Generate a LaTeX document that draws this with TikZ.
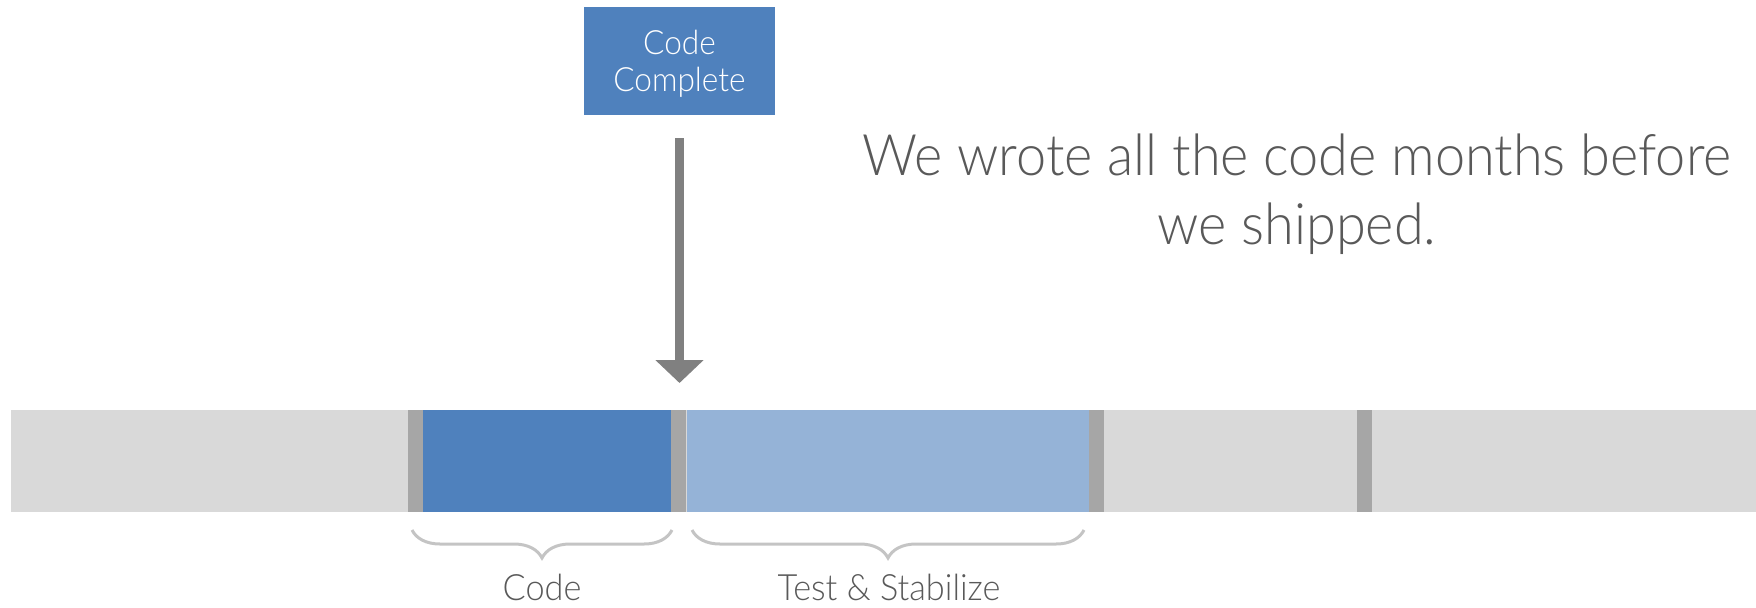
\documentclass[tikz,border=0pt]{standalone}
\usepackage{fontspec}
\setmainfont{Lato Light}[FakeStretch=0.945]
\usetikzlibrary{arrows.meta,decorations.pathreplacing,positioning}

\definecolor{codeblue}{HTML}{4F81BD}
\definecolor{testblue}{HTML}{95B3D7}
\definecolor{bargray}{HTML}{D9D9D9}
\definecolor{sepgray}{HTML}{A6A6A6}
\definecolor{arrowgray}{HTML}{808080}
\definecolor{bracegray}{HTML}{C4C4C4}
\definecolor{textgray}{HTML}{595959}

\tikzset{
    ccbox/.style={fill=codeblue, text=white, inner sep=0pt, align=center,
        minimum width=47.75mm, minimum height=27mm, text depth=0pt,
        font=\fontsize{23.8}{26.3}\selectfont},
    seg/.style={inner sep=0pt, anchor=north west, minimum height=25.5mm},
    bigarrow/.style={arrowgray, line width=2.25mm,
        -{Triangle[width=11.75mm, length=5.75mm]}},
    phasebrace/.style={bracegray, line width=0.75mm,
        decorate, decoration={brace, mirror, amplitude=7mm}},
    phaselabel/.style={textgray, anchor=base, inner sep=0pt,
        font=\fontsize{25.8}{30}\selectfont},
    quote/.style={textgray, align=center, inner sep=0pt, anchor=base,
        font=\fontsize{40.7}{48.4}\selectfont}
}

\begin{document}
\begin{tikzpicture}[x=0.25mm, y=-0.25mm]
    \useasboundingbox (0,0) rectangle (1756,607);

    %timeline bar
    \fill[bargray] (11,410) rectangle (1756,512);
    \node[seg, fill=codeblue, minimum width=62mm] (code) at (423,410) {};
    \node[seg, fill=testblue, minimum width=100.5mm] (test) at (687,410) {};
    \foreach \x in {408,671,1089,1357}
    {
        \fill[sepgray] (\x,410) rectangle ++(15,102);
    }

    %milestone
    \node[ccbox] (cc) at (679.5,61) {Code\\Complete};
    \coordinate (arrowtop) at (679.5,138);
    \coordinate (arrowtip) at (679.5,383);
    \draw[bigarrow] (arrowtop) -- (arrowtip);

    %phases
    \coordinate (codeleft) at (412,530);
    \coordinate (coderight) at (672,530);
    \coordinate (testleft) at (692,530);
    \coordinate (testright) at (1084,530);
    \draw[phasebrace] (codeleft) -- (coderight);
    \draw[phasebrace] (testleft) -- (testright);
    \node[phaselabel] (codelabel) at (542,600) {Code};
    \node[phaselabel] (testlabel) at (889,600) {Test \& Stabilize};

    \node[quote] (msg) at (1297,244) {We wrote all the code months before\\we shipped.};
\end{tikzpicture}
\end{document}
